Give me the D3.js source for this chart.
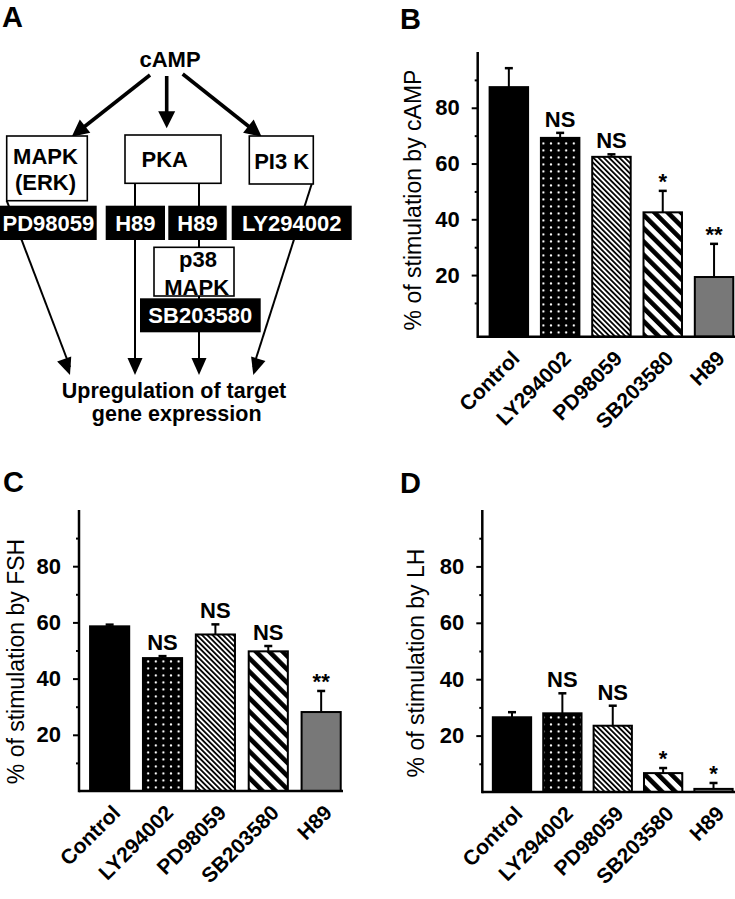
<!DOCTYPE html>
<html><head><meta charset="utf-8">
<script src="https://cdn.jsdelivr.net/npm/d3@7"></script>
<style>body{margin:0;background:#fff}svg{display:block}text{font-family:"Liberation Sans",Arial,Helvetica,sans-serif}</style>
</head><body><svg id="c" width="735" height="899"></svg>
<script>
// ---------- data ----------
const categories = ["Control","LY294002","PD98059","SB203580","H89"];
const campValues = [87.4, 69.2, 62.4, 42.5, 19.3];
const campErrors = [6.8, 1.8, 0.9, 7.7, 11.9];
const campSig    = ["", "NS", "NS", "*", "**"];
const fshValues  = [58.6, 47.3, 55.7, 49.7, 28.1];
const fshErrors  = [0.6, 0.7, 3.6, 1.9, 7.5];
const fshSig     = ["", "NS", "NS", "NS", "**"];
const lhValues   = [26.5, 27.9, 23.5, 6.7, 1.1];
const lhErrors   = [1.8, 7.1, 7.1, 1.8, 2.1];
const lhSig      = ["", "NS", "NS", "*", "*"];
const majorTicks = [20, 40, 60, 80];
const minorTicks = [10, 30, 50, 70, 90];
const fills = ["#000", "url(#dots)", "url(#fine)", "url(#wide)", "#787878"];

// diagram
const whiteBoxes = [
  {x0:6.7,y0:136,x1:87.3,y1:200.7, lines:[["MAPK",45.5,163.5],["(ERK)",45.5,189.5]]},
  {x0:125,y0:135,x1:221,y1:183.3, lines:[["PKA",164.7,167]]},
  {x0:249.3,y0:136,x1:313.3,y1:184, lines:[["PI3 K",281.7,168.5]]},
  {x0:154,y0:247.3,x1:234,y1:296, lines:[["p38",198,267],["MAPK",196.7,295]]}
];
const blackBoxes = [
  {x0:0,y0:205.7,x1:96.7,y1:240, t:"PD98059"},
  {x0:105.7,y0:205.7,x1:165,y1:240, t:"H89"},
  {x0:168.3,y0:205.7,x1:226.7,y1:240, t:"H89"},
  {x0:231.7,y0:205.7,x1:351.7,y1:240, t:"LY294002"},
  {x0:140,y0:298.3,x1:260.7,y1:332.3, t:"SB203580"}
];
const thickArrows = [[150,75,71.7,136.7],[166.7,76,166.7,128.3],[182.7,74,261.7,136.7]];
const thinLines = [[6.7,200.7,70,375],[135,183.3,135,375],[199,183.3,199,375],[311.7,184,253.3,375]];

// ---------- drawing ----------
const svg = d3.select("#c");
const defs = svg.append("defs");
const pd = defs.append("pattern").attr("id","dots").attr("patternUnits","userSpaceOnUse")
  .attr("width",7.6).attr("height",7);
pd.append("rect").attr("width",7.6).attr("height",7).attr("fill","#000");
pd.append("circle").attr("cx",3.8).attr("cy",3.5).attr("r",1.15).attr("fill","#fff");
function stripes(id, period, lw){
  const p = defs.append("pattern").attr("id",id).attr("patternUnits","userSpaceOnUse")
    .attr("width",period).attr("height",period).attr("patternTransform","rotate(-45)");
  p.append("rect").attr("width",period).attr("height",period).attr("fill","#fff");
  p.append("rect").attr("x",0).attr("width",lw).attr("height",period).attr("fill","#000");
}
stripes("fine", 3.7, 1.8);
stripes("wide", 9.4, 4.6);

const font = '"Liberation Sans",Arial,sans-serif';

function panel(cfg){
  const g = svg.append("g");
  const y = d3.scaleLinear().domain(cfg.domain).range([cfg.yBottom, cfg.yTop]);
  const x = d3.scaleBand().domain(categories).range(cfg.xRange).paddingInner(cfg.pad).paddingOuter(cfg.pad/2);
  // bars
  g.selectAll("rect.bar").data(categories).join("rect")
    .attr("x", d => x(d)).attr("width", x.bandwidth())
    .attr("y", (d,i) => y(cfg.values[i]))
    .attr("height", (d,i) => cfg.yBottom - y(cfg.values[i]))
    .attr("fill", (d,i) => fills[i]).attr("stroke","#000").attr("stroke-width",2);
  // error bars
  const eb = g.selectAll("g.eb").data(categories).join("g");
  eb.append("line").attr("x1", d => x(d)+x.bandwidth()/2).attr("x2", d => x(d)+x.bandwidth()/2)
    .attr("y1",(d,i)=>y(cfg.values[i])).attr("y2",(d,i)=>y(cfg.values[i]+cfg.errors[i]))
    .attr("stroke","#000").attr("stroke-width",2);
  eb.append("line").attr("x1", d => x(d)+x.bandwidth()/2-4).attr("x2", d => x(d)+x.bandwidth()/2+4)
    .attr("y1",(d,i)=>y(cfg.values[i]+cfg.errors[i])).attr("y2",(d,i)=>y(cfg.values[i]+cfg.errors[i]))
    .attr("stroke","#000").attr("stroke-width",2.5);
  // significance
  g.selectAll("text.sig").data(categories).join("text")
    .attr("x", d => x(d)+x.bandwidth()/2)
    .attr("y", (d,i) => y(cfg.values[i]+cfg.errors[i]) - (cfg.sig[i].startsWith("*") ? 2 : 6))
    .attr("text-anchor","middle").attr("font-weight","bold").attr("font-size",22)
    .text((d,i)=>cfg.sig[i]);
  // y axis
  const ya = d3.axisLeft(y).tickValues(majorTicks).tickSize(6).tickPadding(12).tickFormat(d3.format("d"));
  const yg = g.append("g").attr("transform",`translate(${cfg.xAxis},0)`).call(ya);
  yg.select(".domain").remove();
  yg.selectAll(".tick line").attr("stroke","#000").attr("stroke-width",2);
  yg.selectAll(".tick text").attr("font-size",22).attr("font-weight","bold").attr("font-family",font).attr("fill","#000");
  const ym = d3.axisLeft(y).tickValues(minorTicks).tickSize(3).tickFormat("");
  const ymg = g.append("g").attr("transform",`translate(${cfg.xAxis},0)`).call(ym);
  ymg.select(".domain").remove();
  ymg.selectAll(".tick line").attr("stroke","#000").attr("stroke-width",2);
  g.append("line").attr("x1",cfg.xAxis).attr("x2",cfg.xAxis).attr("y1",cfg.yTop).attr("y2",cfg.yBottom+1.2)
    .attr("stroke","#000").attr("stroke-width",2.5);
  g.append("line").attr("x1",cfg.xAxis).attr("x2",cfg.xEnd).attr("y1",cfg.yBottom).attr("y2",cfg.yBottom)
    .attr("stroke","#000").attr("stroke-width",2.5);
  // category labels
  g.selectAll("text.cat").data(categories).join("text")
    .attr("transform", d => `translate(${x(d)+x.bandwidth()/2+12},${cfg.yBottom+23}) rotate(-45)`)
    .attr("text-anchor","end").attr("font-weight","bold").attr("font-size",21).text(d=>d);
  // y label
  g.append("text").attr("transform",`translate(${cfg.labelX},${cfg.labelY}) rotate(-90)`)
    .attr("text-anchor","middle").attr("dominant-baseline","central").attr("font-size",23).text(cfg.label);
  // panel letter
  g.append("text").attr("x",cfg.letterX).attr("y",cfg.letterY).attr("font-size",29).attr("font-weight","bold").text(cfg.letter);
}

panel({values:campValues, errors:campErrors, sig:campSig, domain:[-2.1,100], yBottom:336.7, yTop:52,
  xRange:[483.2,739.7], pad:0.25, xAxis:477.7, xEnd:735, label:"% of stimulation by cAMP",
  labelX:413, labelY:200, letter:"B", letterX:400, letterY:28.5});
panel({values:fshValues, errors:fshErrors, sig:fshSig, domain:[0,100], yBottom:791, yTop:510,
  xRange:[83.2,347.6], pad:0.26, xAxis:79, xEnd:343, label:"% of stimulation by FSH",
  labelX:16, labelY:661.5, letter:"C", letterX:3, letterY:492});
panel({values:lhValues, errors:lhErrors, sig:lhSig, domain:[0,100], yBottom:792, yTop:510,
  xRange:[486.8,738.7], pad:0.24, xAxis:482.3, xEnd:735, label:"% of stimulation by LH",
  labelX:416, labelY:663, letter:"D", letterX:400, letterY:493});

// ---------- panel A diagram ----------
const A = svg.append("g");
A.append("text").attr("x",2).attr("y",27).attr("font-size",29).attr("font-weight","bold").text("A");
A.append("text").attr("x",170).attr("y",66.5).attr("text-anchor","middle").attr("font-size",22).attr("font-weight","bold").text("cAMP");

function arrowHead(x1,y1,x2,y2,len,wid){
  const a = Math.atan2(y2-y1,x2-x1);
  const bx = x2 - len*Math.cos(a), by = y2 - len*Math.sin(a);
  const px = -Math.sin(a)*wid/2, py = Math.cos(a)*wid/2;
  return `M${x2},${y2}L${bx+px},${by+py}L${bx-px},${by-py}Z`;
}
thinLines.forEach(([x1,y1,x2,y2])=>{
  A.append("line").attr("x1",x1).attr("y1",y1).attr("x2",x2).attr("y2",y2-8).attr("stroke","#000").attr("stroke-width",2);
  A.append("path").attr("d",arrowHead(x1,y1,x2,y2,17,15)).attr("fill","#000");
});
thickArrows.forEach(([x1,y1,x2,y2])=>{
  const a = Math.atan2(y2-y1,x2-x1);
  A.append("line").attr("x1",x1).attr("y1",y1).attr("x2",x2-10*Math.cos(a)).attr("y2",y2-10*Math.sin(a))
    .attr("stroke","#000").attr("stroke-width",3.6);
  A.append("path").attr("d",arrowHead(x1,y1,x2,y2,17,17)).attr("fill","#000");
});
whiteBoxes.forEach(b=>{
  A.append("rect").attr("x",b.x0).attr("y",b.y0).attr("width",b.x1-b.x0).attr("height",b.y1-b.y0)
    .attr("fill","#fff").attr("stroke","#000").attr("stroke-width",1.6);
  b.lines.forEach(([t,x,y])=>A.append("text").attr("x",x).attr("y",y).attr("text-anchor","middle")
    .attr("font-size",22).attr("font-weight","bold").text(t));
});
blackBoxes.forEach(b=>{
  A.append("rect").attr("x",b.x0).attr("y",b.y0).attr("width",b.x1-b.x0).attr("height",b.y1-b.y0).attr("fill","#000");
  A.append("text").attr("x",(b.x0+b.x1)/2).attr("y",(b.y0+b.y1)/2+8).attr("text-anchor","middle")
    .attr("font-size",22).attr("font-weight","bold").attr("fill","#fff").text(b.t);
});
A.append("text").attr("x",174).attr("y",397.5).attr("text-anchor","middle").attr("font-size",21.5).attr("font-weight","bold").text("Upregulation of target");
A.append("text").attr("x",176.7).attr("y",420.5).attr("text-anchor","middle").attr("font-size",21.5).attr("font-weight","bold").text("gene expression");
</script></body></html>
